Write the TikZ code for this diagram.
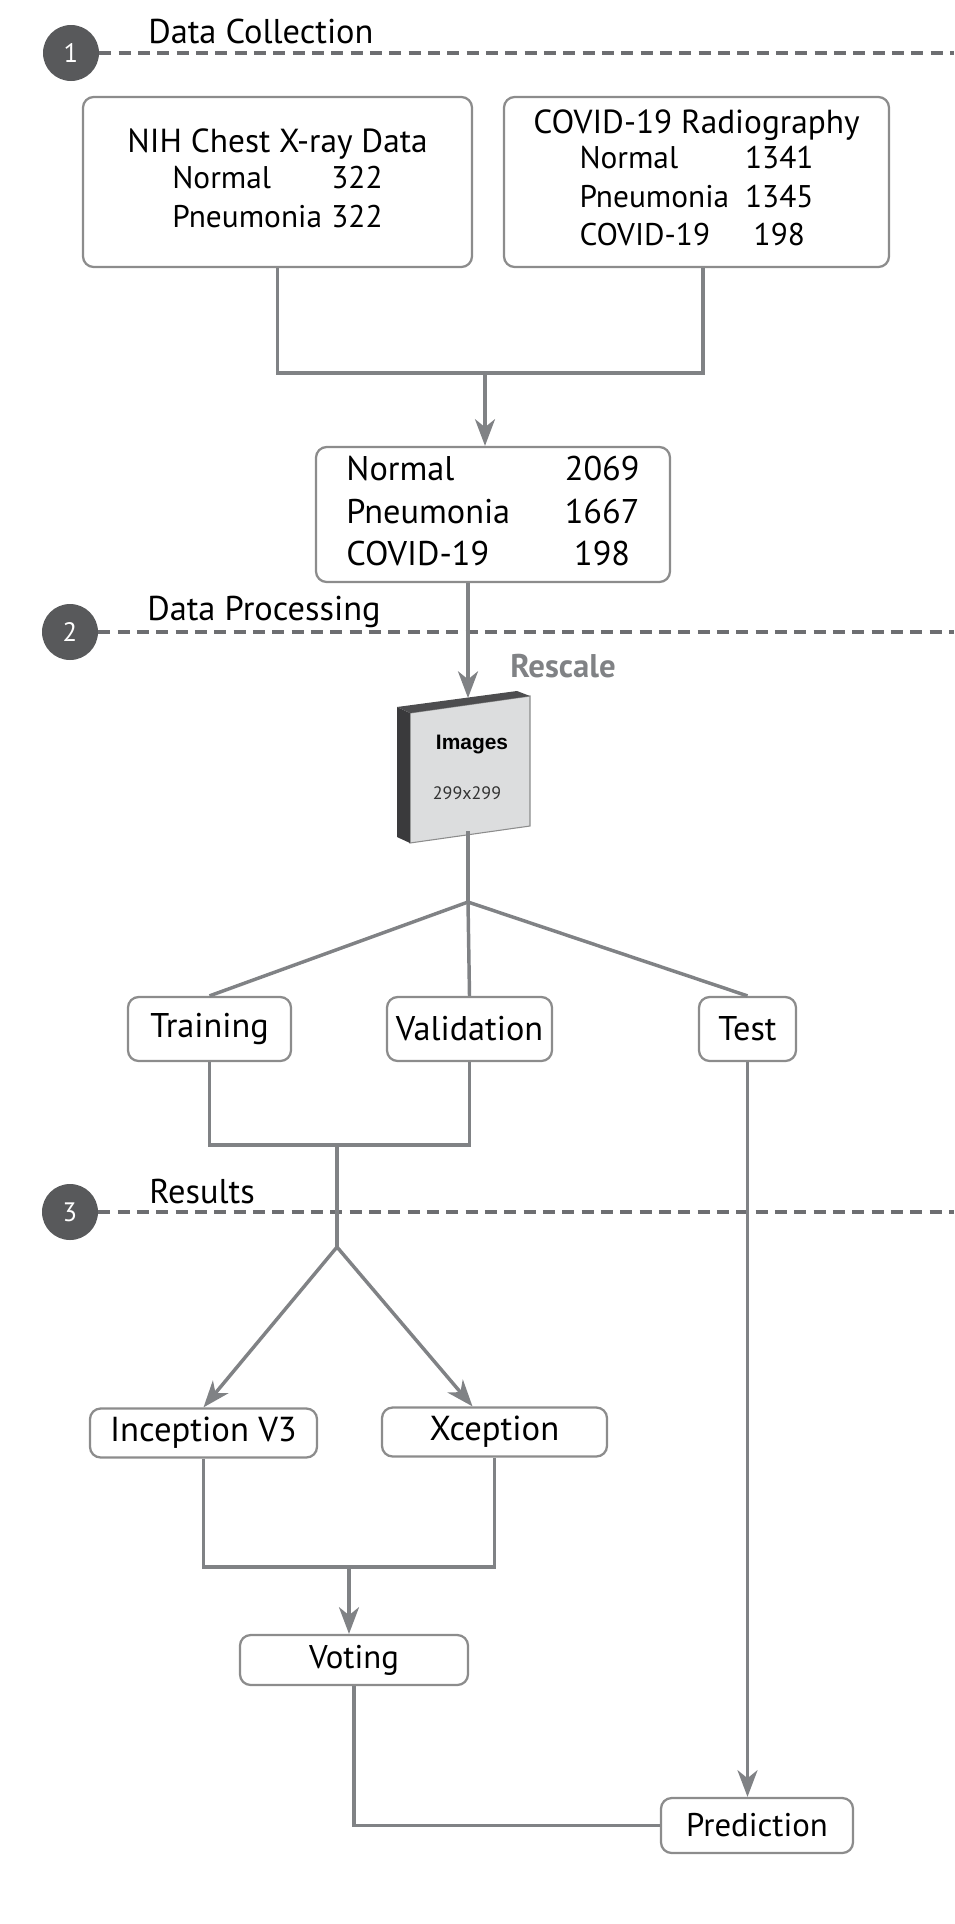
\documentclass[tikz,border=0pt]{standalone}
\usepackage{fontspec}
\setmainfont{PT Sans}
\newfontfamily\arialfont{Liberation Sans}
\usetikzlibrary{arrows.meta}
\definecolor{linegray}{HTML}{808285}
\definecolor{boxgray}{HTML}{8C8C8C}
\definecolor{dashgray}{HTML}{6D6E71}
\definecolor{circgray}{HTML}{58595B}
\definecolor{facegray}{HTML}{DCDDDE}
\definecolor{sidegray}{HTML}{3A3A3C}
\definecolor{topgray}{HTML}{4D4D4F}

\begin{document}
\begin{tikzpicture}[x=0.75pt,y=-0.75pt]
\tikzstyle{block} = [rectangle, draw=boxgray, line width=1.7pt, fill=white,
rounded corners=8pt, inner sep=0pt, font=\fontsize{25.7}{30}\selectfont]
\tikzstyle{stagedot} = [circle, fill=circgray, text=white, minimum size=42pt,
inner sep=0pt, font=\fontsize{20}{20}\selectfont]
\tikzstyle{stagetitle} = [anchor=base west, inner sep=0pt, font=\fontsize{25.8}{26}\selectfont]
\tikzstyle{stagesep} = [draw=dashgray, line width=3pt, dash pattern=on 9pt off 5.5pt]
\tikzstyle{line} = [draw=linegray, line width=2.6pt]
\tikzstyle{arrowline} = [line, -{Stealth[length=20pt,width=15pt,inset=6pt]}]

\useasboundingbox (0,0) rectangle (954,1924);

% stage 1
\node[stagedot] (s1) at (71,53) {1};
\node[stagetitle] (t1) at (148,43) {Data Collection};
\coordinate (e1) at (954,53);
\path[stagesep] (s1.east) -- (e1);

\node[block, minimum width=291.75pt, minimum height=127.5pt,
font=\fontsize{23.5}{29}\selectfont] (nih) at (277.5,182) {%
\begin{tabular}{@{}l@{\hspace{7pt}}r@{}}
\multicolumn{2}{@{}c@{}}{\makebox[0pt]{\fontsize{25}{29}\selectfont NIH Chest X-ray Data}}\\[-2pt]
Normal & 322\\
Pneumonia & 322
\end{tabular}};
\node[block, minimum width=288.75pt, minimum height=127.5pt,
font=\fontsize{23.5}{29}\selectfont] (covid) at (696.5,182) {%
\begin{tabular}{@{}l@{\hspace{12pt}}c@{}}
\multicolumn{2}{@{}c@{}}{\makebox[0pt]{\fontsize{25}{29}\selectfont COVID-19 Radiography}}\\[-3pt]
Normal & 1341\\
Pneumonia & 1345\\
COVID-19 & 198
\end{tabular}};
\node[block, minimum width=265.5pt, minimum height=101.25pt,
font=\fontsize{25.7}{32}\selectfont] (merged) at (493,514.5) {%
\begin{tabular}{@{}l@{\hspace{41pt}}c@{}}
Normal & 2069\\
Pneumonia & 1667\\
COVID-19 & 198
\end{tabular}};

% stage 2
\node[stagedot] (s2) at (70,632) {2};
\node[stagetitle] (t2) at (147,620) {Data Processing};
\coordinate (e2) at (954,632);
\path[stagesep] (s2.east) -- (e2);

\node[anchor=base west, inner sep=0pt, text=linegray,
font=\bfseries\fontsize{24.6}{25}\selectfont] (rescale) at (510,677) {Rescale};

% image stack
\filldraw[fill=facegray, draw=boxgray, line width=0.8pt]
(410,713) -- (530,696) -- (530,826) -- (410,843) -- cycle;
\fill[sidegray] (397,707) -- (410,713) -- (410,843) -- (397,837) -- cycle;
\fill[topgray] (397,707) -- (517,691) -- (530,696) -- (410,713) -- cycle;
\node[font=\arialfont\bfseries\fontsize{15.7}{16}\selectfont] (imglbl) at (472,745) {Images};
\node[text=black!80, font=\fontsize{13.5}{14}\selectfont] (imgsize) at (467,793) {299x299};

\node[block, minimum width=122.25pt, minimum height=48pt] (train) at (209.5,1029) {Training};
\node[block, minimum width=123.75pt, minimum height=48pt] (valid) at (469.5,1029) {Validation};
\node[block, minimum width=72.75pt, minimum height=48pt] (test) at (747.5,1029) {Test};

% stage 3
\node[stagedot] (s3) at (70,1212) {3};
\node[stagetitle] (t3) at (149,1203) {Results};
\coordinate (e3) at (954,1212);
\path[stagesep] (s3.east) -- (e3);

\node[block, minimum width=170.25pt, minimum height=36.75pt,
font=\fontsize{26}{30}\selectfont] (incep) at (203.5,1433) {Inception V3};
\node[block, minimum width=168.75pt, minimum height=36.75pt,
font=\fontsize{26}{30}\selectfont] (xcep) at (494.5,1432) {Xception};
\node[block, minimum width=171pt, minimum height=37.5pt,
font=\fontsize{24.6}{30}\selectfont] (vote) at (354,1660) {Voting};
\node[block, minimum width=144pt, minimum height=41.25pt,
font=\fontsize{24.6}{30}\selectfont] (pred) at (757,1825.5) {Prediction};

\coordinate (jA) at (485,373);
\coordinate (imgtop) at (468,698);
\coordinate (imgbot) at (468,831);
\coordinate (split) at (468,902);
\coordinate (jB) at (337,1145);
\coordinate (fork) at (337,1247);
\coordinate (jC) at (349,1567);

\path[line] (nih.south) |- (jA) -| ([xshift=5pt]covid.south);
\path[arrowline] (jA) -- (jA |- merged.north);
\path[arrowline] (merged.south -| imgtop) -- (imgtop);
\path[line] (imgbot) -- (split);
\path[line] (split) -- (train.north);
\path[line] (split) -- (valid.north);
\path[line] (split) -- (test.north);
\path[line] (train.south) |- (jB) -| (valid.south);
\path[line] (jB) -- (fork);
\path[arrowline] (fork) -- (incep.north);
\path[arrowline] (fork) -- ([xshift=-16.5pt]xcep.north);
\path[line] (incep.south) |- (jC) -| (xcep.south);
\path[arrowline] (jC) -- (jC |- vote.north);
\path[line] (vote.south) |- (pred.west);
\path[arrowline] (test.south) -- (test.south |- pred.north);
\end{tikzpicture}
\end{document}
